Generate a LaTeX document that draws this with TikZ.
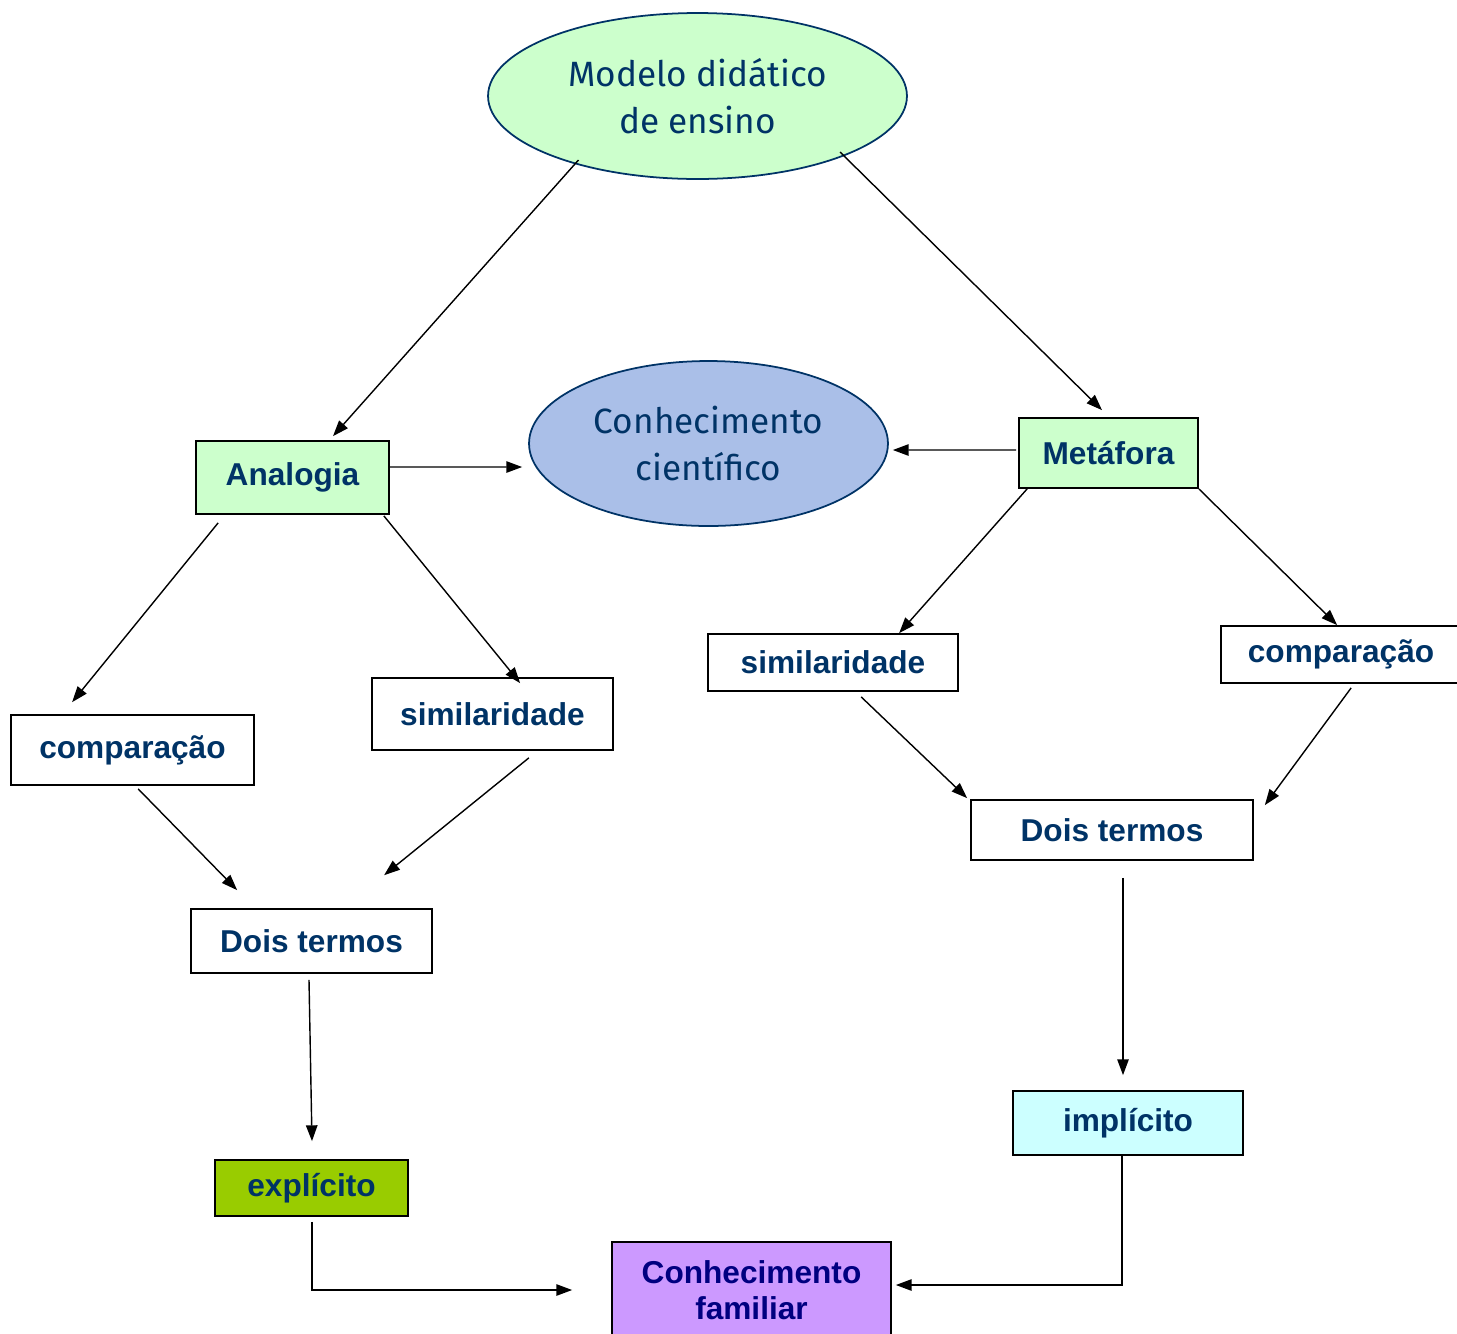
\documentclass[tikz,border=0pt]{standalone}
\usepackage{fontspec}
\setmainfont{Liberation Sans}
\newfontfamily\ovalfont{Fira Sans}
\usetikzlibrary{shapes,arrows.meta,positioning,calc}
\definecolor{navytext}{RGB}{0,51,102}
\definecolor{famtext}{RGB}{0,0,128}
\definecolor{lightgreen}{RGB}{204,255,204}
\definecolor{lightblue}{RGB}{170,191,232}
\definecolor{limegreen}{RGB}{153,204,0}
\definecolor{lightcyan}{RGB}{204,255,255}
\definecolor{lilac}{RGB}{204,153,255}

\begin{document}
\begin{tikzpicture}[x=0.02cm, y=-0.02cm,
    box/.style={draw, rectangle, line width=1pt, inner sep=0pt, text=navytext, font=\bfseries\fontsize{18}{20.5}\selectfont, align=center},
    oval/.style={draw=navytext, ellipse, line width=1pt, inner sep=0pt, text=navytext, font=\ovalfont\fontsize{20}{27}\selectfont, align=center},
    arr/.style={-{Triangle[length=9pt,width=6.5pt]}, line width=0.8pt}]
    \useasboundingbox (0,0) rectangle (1457,1333);

    % ovals
    \node[oval, fill=lightgreen, minimum width=8.38cm, minimum height=3.32cm] (modelo) at (697.5,96) {Modelo didático\\de ensino};
    \node[oval, fill=lightblue, minimum width=7.18cm, minimum height=3.3cm] (cc) at (708.5,443.5) {Conhecimento\\científico};

    % boxes
    \node[box, fill=lightgreen, minimum width=3.86cm, minimum height=1.46cm] (ana) at (292.5,477.5) {Analogia};
    \node[box, fill=lightgreen, minimum width=3.58cm, minimum height=1.4cm] (met) at (1108.5,453) {Metáfora};
    \node[box, minimum width=4.86cm, minimum height=1.4cm] (compL) at (132.5,750) {comparação};
    \node[box, minimum width=4.82cm, minimum height=1.44cm] (simL) at (492.5,714) {similaridade};
    \node[box, minimum width=5cm, minimum height=1.14cm] (simR) at (833,662.5) {similaridade};
    \node[box, minimum width=4.8cm, minimum height=1.14cm] (compR) at (1341,654.5) {comparação};
    \node[box, minimum width=4.82cm, minimum height=1.28cm] (doisL) at (311.5,941) {Dois termos};
    \node[box, minimum width=5.64cm, minimum height=1.2cm] (doisR) at (1112,830) {Dois termos};
    \node[box, fill=limegreen, minimum width=3.86cm, minimum height=1.12cm] (expl) at (311.5,1188) {explícito};
    \node[box, fill=lightcyan, minimum width=4.6cm, minimum height=1.28cm] (impl) at (1128,1123) {implícito};
    \node[box, fill=lilac, text=famtext, minimum width=5.58cm, minimum height=1.92cm] (fam) at (751.5,1290) {Conhecimento\\familiar};

    % arrows
    \draw[arr] ($(modelo.center)+(-119,64)$) -- ($(ana.north)+(40.5,-4)$);
    \draw[arr] ($(modelo.center)+(142.5,56)$) -- ($(met.north)+(-6.5,-7)$);
    \draw[arr] ($(ana.east)+(0,-10.5)$) -- ($(cc.west)+(-6,23.5)$);
    \draw[arr] ($(met.west)+(-2,-3)$) -- ($(cc.east)+(4,6.5)$);
    \draw[arr] ($(ana.south west)+(23,8)$) -- ($(compL.north west)+(62,-12)$);
    \draw[arr] ($(ana.south east)+(-6,1)$) -- ($(simL.north west)+(149,6)$);
    \draw[arr] ($(met.south west)+(9,0)$) -- ($(simR.north west)+(192,0)$);
    \draw[arr] (met.south east) -- ($(compR.north west)+(117,0)$);
    \draw[arr] ($(compL.south west)+(128,3)$) -- ($(doisL.north west)+(47,-18)$);
    \draw[arr] ($(simL.south east)+(-85,7)$) -- ($(doisL.north west)+(194,-33)$);
    \draw[arr] ($(simR.south west)+(154,5)$) -- ($(doisR.north west)+(-3,-1)$);
    \draw[arr] ($(compR.south west)+(131,4)$) -- ($(doisR.north east)+(11,6)$);
    \draw[arr] ($(doisL.south)+(-2.5,6)$) -- ($(expl.north)+(0.5,-18)$);
    \draw[arr] ($(doisR.south)+(11,17)$) -- ($(impl.north)+(-5,-15)$);
    \draw[arr] ($(expl.south)+(0.5,5)$) |- ($(fam.west)+(-39,0)$);
    \draw[arr] ($(impl.south)+(-6,0)$) |- ($(fam.east)+(4,-5)$);
\end{tikzpicture}
\end{document}
